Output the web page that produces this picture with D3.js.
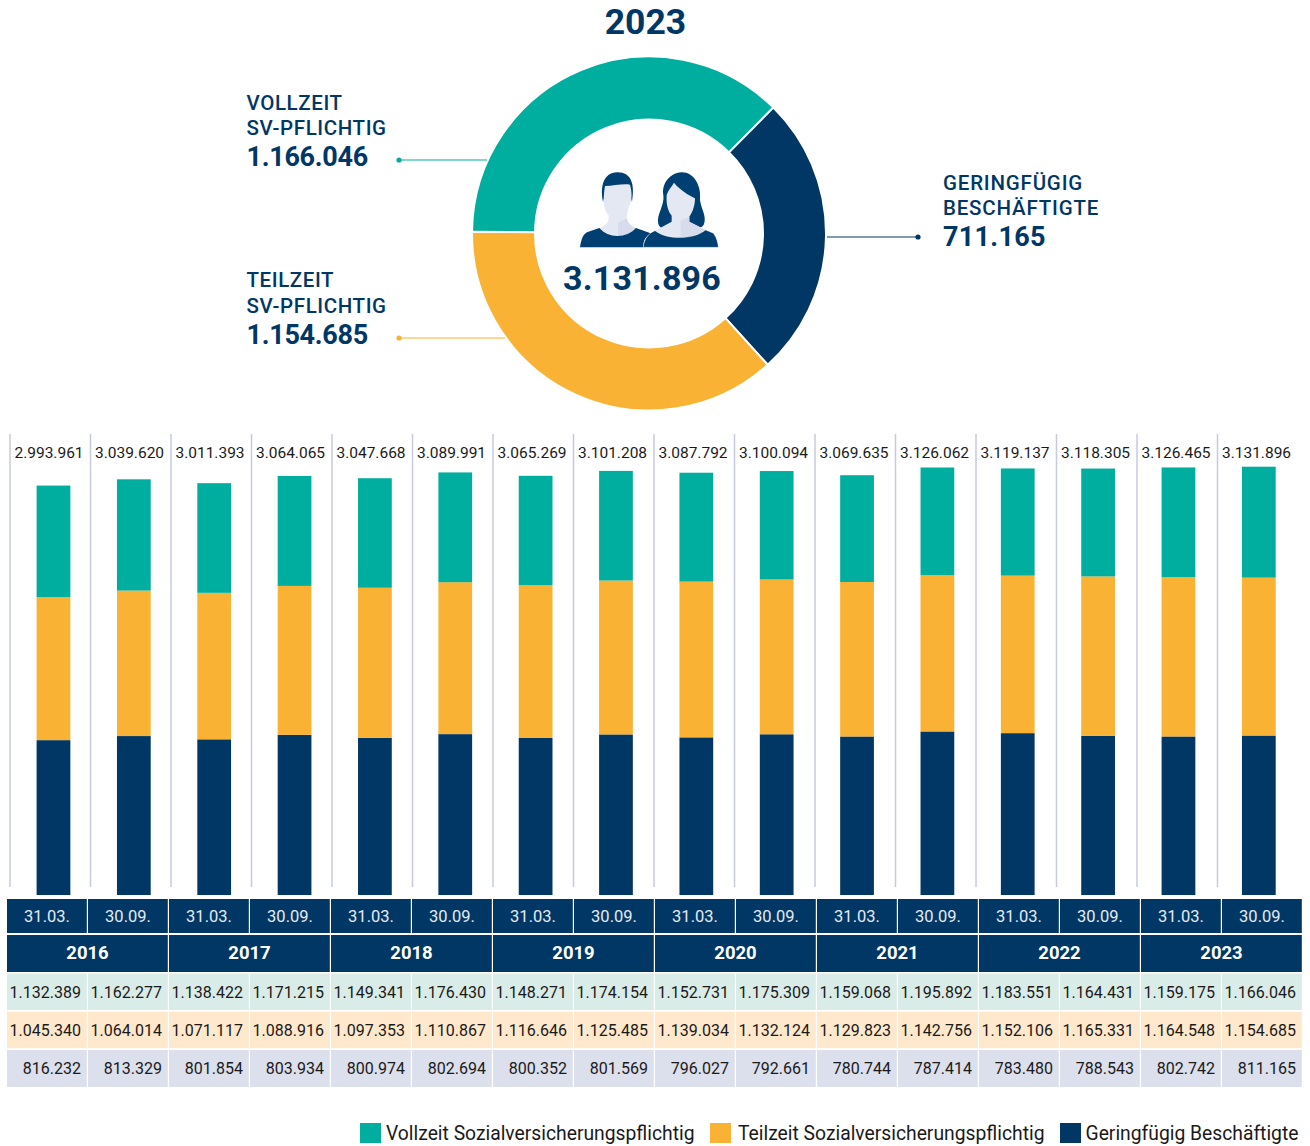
<!DOCTYPE html>
<html>
<head>
<meta charset="utf-8">
<script src="https://cdn.jsdelivr.net/npm/d3@7"></script>
<style>
  html, body { margin: 0; padding: 0; background: #fff; }
  svg { display: block; font-family: Roboto, sans-serif; }
</style>
</head>
<body>
<svg id="chart"></svg>
<script>
const years = ["2016", "2017", "2018", "2019", "2020", "2021", "2022", "2023"];
const dates = ["31.03.", "30.09."];

const totals = [2993961, 3039620, 3011393, 3064065, 3047668, 3089991, 3065269, 3101208,
  3087792, 3100094, 3069635, 3126062, 3119137, 3118305, 3126465, 3131896];
const vollzeit = [1132389, 1162277, 1138422, 1171215, 1149341, 1176430, 1148271, 1174154,
  1152731, 1175309, 1159068, 1195892, 1183551, 1164431, 1159175, 1166046];
const teilzeit = [1045340, 1064014, 1071117, 1088916, 1097353, 1110867, 1116646, 1125485,
  1139034, 1132124, 1129823, 1142756, 1152106, 1165331, 1164548, 1154685];
const geringfuegig = [816232, 813329, 801854, 803934, 800974, 802694, 800352, 801569,
  796027, 792661, 780744, 787414, 783480, 788543, 802742, 811165];

const legendLabels = ["Vollzeit Sozialversicherungspflichtig", "Teilzeit Sozialversicherungspflichtig", "Geringfügig Beschäftigte"];

const teal = "#00ae9f", orange = "#f9b233", navy = "#003764";

const svg = d3.select("#chart").attr("width", 1310).attr("height", 1146);

// --- donut ---
const donutData = [
  { value: vollzeit[15], color: teal },
  { value: geringfuegig[15], color: navy },
  { value: teilzeit[15], color: orange },
];
const startAngle = (-90 + 0.6) * Math.PI / 180;
const pie = d3.pie().sort(null).value((d) => d.value)
  .startAngle(startAngle).endAngle(startAngle + 2 * Math.PI);
const arc = d3.arc().innerRadius(114).outerRadius(177);
const donut = svg.append("g").attr("transform", "translate(649,233.5)");
donut.selectAll("path")
  .data(pie(donutData))
  .join("path")
  .attr("d", arc)
  .attr("fill", (d) => d.data.color)
  .attr("stroke", "#fff")
  .attr("stroke-width", 2);

svg.append("text").attr("x", 645.5).attr("y", 33.5).attr("text-anchor", "middle")
  .attr("font-size", 35.5).attr("font-weight", 700).attr("fill", navy).text("2023");

svg.append("text").attr("x", 642).attr("y", 290).attr("text-anchor", "middle")
  .attr("font-size", 34).attr("font-weight", 700).attr("letter-spacing", 0.2).attr("fill", navy).text("3.131.896");

// people icon, drawn in the 3x coordinates of a crop
const icon = svg.append("g").attr("transform", "translate(560,150) scale(0.3333)");
const iconLight = "#e4e8f3", iconShade = "#d6dcec", iconDark = "#003f72";
// man
icon.append("path").attr("fill", iconDark)
  .attr("d", "M129,155 C120,110 130,68 172,67 C212,66 226,100 216,155 L205,115 L140,115 Z");
icon.append("path").attr("fill", iconLight)
  .attr("d", "M135,108 C160,108 190,100 210,104 C216,125 218,150 206,172 C203,185 200,195 200,205 L204,215 C212,226 220,232 230,236 C200,264 150,264 118,236 C130,230 142,222 146,210 L146,195 C130,180 128,150 135,108 Z");
icon.append("path").attr("fill", iconShade)
  .attr("d", "M174,218 L200,205 L204,215 C212,226 220,232 230,236 C215,250 195,256 174,258 Z");
icon.append("path").attr("fill", iconDark)
  .attr("d", "M60,292 C64,265 70,250 85,245 L118,234 C145,266 200,266 228,234 L272,250 C250,265 250,280 250,292 Z");
// woman
icon.append("path").attr("fill", iconDark)
  .attr("d", "M365,67 C400,66 425,105 420,150 C424,180 442,200 431,225 C420,240 400,236 388,226 L340,226 C325,240 300,240 295,222 C288,195 315,165 310,135 C305,105 325,70 365,67 Z");
icon.append("path").attr("fill", iconLight)
  .attr("d", "M342,98 C360,120 385,135 405,145 C405,170 396,190 388,200 L388,215 L437,240 C400,270 320,270 285,242 L335,215 L335,197 C325,185 318,165 320,135 C325,120 335,110 342,98 Z");
icon.append("path").attr("fill", iconShade)
  .attr("d", "M362,212 L388,200 L388,215 L437,240 C420,254 390,262 362,264 Z");
icon.append("path").attr("fill", iconDark)
  .attr("stroke", "#fff").attr("stroke-width", 1)
  .attr("d", "M250,292 C252,268 265,250 285,242 C320,270 400,270 437,240 L460,250 C470,262 474,280 475,292 Z");

// callouts
function callout(x, lines, value, y0, lineY, x1, x2, dotX, color, spacing, numSpacing) {
  lines.forEach((t, i) => {
    svg.append("text").attr("x", x).attr("y", y0 + i * 25.4)
      .attr("font-size", 20.5).attr("font-weight", 500).attr("letter-spacing", spacing)
      .attr("fill", navy).text(t);
  });
  svg.append("text").attr("x", x).attr("y", y0 + 56.3)
    .attr("font-size", 27).attr("font-weight", 700).attr("letter-spacing", numSpacing)
    .attr("fill", navy).text(value);
  svg.append("line").attr("x1", x1).attr("x2", x2).attr("y1", lineY).attr("y2", lineY)
    .attr("stroke", color).attr("stroke-width", 1.1);
  svg.append("circle").attr("cx", dotX).attr("cy", lineY).attr("r", 2.6).attr("fill", color);
}
callout(246.5, ["VOLLZEIT", "SV-PFLICHTIG"], "1.166.046", 110, 160, 399, 487, 399, teal, 0.6, -0.3);
callout(246.5, ["TEILZEIT", "SV-PFLICHTIG"], "1.154.685", 287.2, 338, 399, 505, 399, orange, 0.6, -0.3);
// the printed label reads 711.165 in the source, the ring itself uses 811.165
callout(943, ["GERINGFÜGIG", "BESCHÄFTIGTE"], "711.165", 190, 237, 827, 918, 918, navy, 0.8, 0.3);

// --- stacked bars ---
const idx = d3.range(totals.length);
const xGrid = d3.scaleLinear().domain([0, 16]).range([10, 1298]);
const xBar = d3.scaleBand().domain(idx).range([13.3, 1299]).paddingInner(0.58).paddingOuter(0.29);
const xCol = d3.scaleBand().domain(idx).range([7, 1303]);
const y = d3.scaleLinear().domain([0, d3.max(totals)]).range([895, 466.7]);

svg.append("g").selectAll("line")
  .data(idx)
  .join("line")
  .attr("x1", (d) => xGrid(d)).attr("x2", (d) => xGrid(d))
  .attr("y1", 434).attr("y2", 887)
  .attr("stroke", "#c6cadf").attr("stroke-width", 1.5);

// same stack order as the source: table rows from the bottom up,
// the colours do not follow the legend there
const stack = d3.stack().keys(["a", "b", "c"])(idx.map((i) => ({ a: vollzeit[i], b: teilzeit[i], c: geringfuegig[i] })));
const barColors = [navy, orange, teal];
svg.append("g").selectAll("g")
  .data(stack)
  .join("g")
  .attr("fill", (d, i) => barColors[i])
  .selectAll("rect")
  .data((d) => d)
  .join("rect")
  .attr("x", (d, i) => xBar(i))
  .attr("width", xBar.bandwidth())
  .attr("y", (d) => y(d[1]))
  .attr("height", (d) => y(d[0]) - y(d[1]));

const fmt = (v) => d3.format(",")(v).replace(/,/g, ".");

svg.append("g").selectAll("text")
  .data(totals)
  .join("text")
  .attr("x", (d, i) => xGrid(i) + 39)
  .attr("y", 458)
  .attr("text-anchor", "middle")
  .attr("font-size", 15.5)
  .attr("fill", "#1a1a1a")
  .text(fmt);

// --- table ---
const dateRow = svg.append("g");
idx.forEach((i) => {
  dateRow.append("rect").attr("x", xCol(i)).attr("y", 899)
    .attr("width", xCol.bandwidth() - 1.2).attr("height", 34).attr("fill", navy);
  dateRow.append("text").attr("x", xCol(i) + xCol.bandwidth() / 2 - 0.5).attr("y", 922)
    .attr("text-anchor", "middle").attr("font-size", 16.5).attr("fill", "#e6eaf2")
    .text(dates[i % 2]);
});

const yearRow = svg.append("g");
years.forEach((yr, k) => {
  const x0 = xCol(k * 2);
  yearRow.append("rect").attr("x", x0).attr("y", 935)
    .attr("width", xCol.bandwidth() * 2 - 1.2).attr("height", 37).attr("fill", navy);
  yearRow.append("text").attr("x", x0 + xCol.bandwidth() - 0.5).attr("y", 959)
    .attr("text-anchor", "middle").attr("font-size", 18.5).attr("font-weight", 700).attr("fill", "#fff")
    .text(yr);
});

[[vollzeit, "#daece8", 973.5, 36.5], [teilzeit, "#ffe8cc", 1011.7, 36.5], [geringfuegig, "#dcdfec", 1050, 37]]
  .forEach(([values, fill, top, h]) => {
    const row = svg.append("g");
    row.selectAll("rect").data(values).join("rect")
      .attr("x", (d, i) => xCol(i)).attr("y", top)
      .attr("width", xCol.bandwidth() - 1.2).attr("height", h).attr("fill", fill);
    row.selectAll("text").data(values).join("text")
      .attr("x", (d, i) => xCol(i) + xCol.bandwidth() - 7).attr("y", top + 24)
      .attr("text-anchor", "end").attr("font-size", 16).attr("fill", "#1a1a1a")
      .text(fmt);
  });

// --- legend ---
const legendX = [360, 710, 1060];
const legendTextX = [386, 738, 1085.5];
const legendColors = [teal, orange, navy];
const legend = svg.append("g");
legendLabels.forEach((t, i) => {
  legend.append("rect").attr("x", legendX[i]).attr("y", 1123).attr("width", 21).attr("height", 20).attr("fill", legendColors[i]);
  legend.append("text").attr("x", legendTextX[i]).attr("y", 1140)
    .attr("font-size", 19.3).attr("fill", "#1a1a1a").text(t);
});
</script>
</body>
</html>
